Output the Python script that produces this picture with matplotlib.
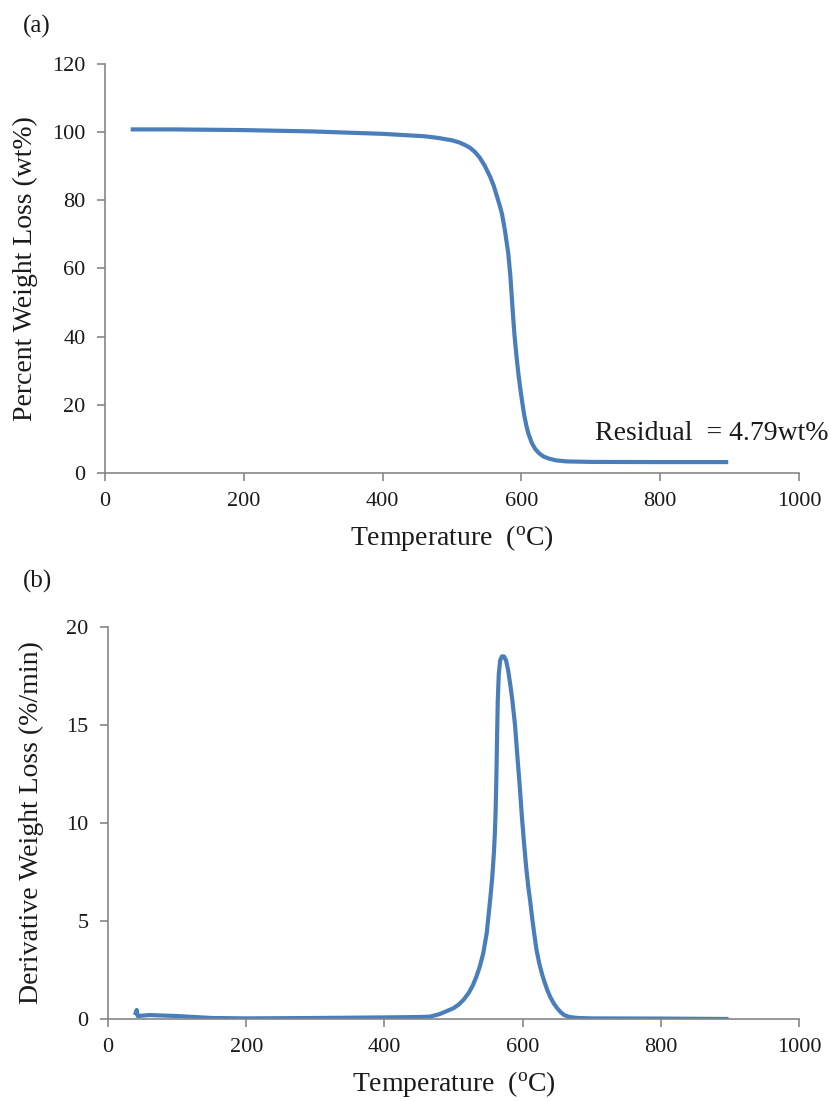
import matplotlib
matplotlib.use("Agg")
import matplotlib.pyplot as plt
import numpy as np

# TGA data
tga_temp = [40, 100, 200, 300, 400, 460, 480, 500, 510, 518, 526, 533, 540, 547, 555, 560,
            565, 569, 572, 576, 581, 584, 586, 588, 590, 593, 596, 598, 601, 604, 607, 610,
            615, 620, 626, 632, 640, 650, 665, 700, 800, 895]
tga_wt = [100.8, 100.8, 100.6, 100.2, 99.5, 98.8, 98.3, 97.6, 97.0, 96.3, 95.4, 94.2, 92.5,
          90.2, 86.9, 84.3, 81.0, 78.3, 76.0, 71.5, 64.5, 58.0, 52.0, 46.0, 40.5, 34.0, 28.5,
          25.3, 21.0, 17.0, 14.0, 11.6, 8.8, 7.0, 5.7, 4.8, 4.2, 3.7, 3.4, 3.25, 3.2, 3.2]

# DTG data
dtg_temp = [40, 41.5, 43, 60, 100, 150, 200, 300, 400, 450, 466, 480, 500, 508, 515, 522,
            528, 533, 538, 543, 548, 553, 556, 558.5, 560, 561, 562, 563, 564, 565.5, 567.5,
            570, 573, 576, 579, 582, 585, 589, 592, 596, 599, 602, 605, 608, 611, 614, 617,
            620, 624, 628, 632, 636, 640, 645, 650, 655, 660, 668, 680, 700, 800, 895]
dtg_val = [0.3, 0.46, 0.15, 0.2, 0.15, 0.05, 0.03, 0.05, 0.08, 0.1, 0.12, 0.25, 0.55, 0.75,
           1.0, 1.33, 1.72, 2.15, 2.67, 3.35, 4.37, 6.07, 7.2, 8.5, 9.6, 10.7, 12.3, 14.3,
           16.2, 17.6, 18.3, 18.5, 18.5, 18.3, 17.8, 17.1, 16.3, 15.0, 13.6, 11.8, 10.3, 9.0,
           7.8, 6.8, 6.0, 5.1, 4.3, 3.55, 2.85, 2.3, 1.85, 1.45, 1.12, 0.8, 0.55, 0.35, 0.2,
           0.1, 0.05, 0.03, 0.02, 0.0]

x_ticks = [0, 200, 400, 600, 800, 1000]
tga_yticks = [0, 20, 40, 60, 80, 100, 120]
dtg_yticks = [0, 5, 10, 15, 20]

plt.rcParams['font.family'] = ['Liberation Serif', 'DejaVu Serif']
plt.rcParams['mathtext.fontset'] = 'custom'
plt.rcParams['mathtext.rm'] = 'Liberation Serif'

line_color = '#4A7EBB'
spine_color = '#868686'
text_color = '#1a1a1a'

fig = plt.figure(figsize=(8.31, 11.01), dpi=100)
ax1 = fig.add_axes([0.1264, 0.5704, 0.8351, 0.3715])
ax2 = fig.add_axes([0.1300, 0.0745, 0.8315, 0.3560])

def style(ax):
    for s in ['top', 'right']:
        ax.spines[s].set_visible(False)
    for s in ['left', 'bottom']:
        ax.spines[s].set_color(spine_color)
        ax.spines[s].set_linewidth(1.2)
    ax.tick_params(axis='both', direction='out', length=6, width=1.2, color=spine_color,
                   labelsize=16, labelcolor=text_color, pad=8)

ax1.plot(tga_temp, tga_wt, color=line_color, lw=3.0, solid_joinstyle='round')
ax1.set_xlim(0, 1000)
ax1.set_ylim(0, 120)
ax1.set_xticks(x_ticks)
ax1.set_yticks(tga_yticks)
style(ax1)
ax1.set_xlabel(r'Temperature  ($\mathregular{^o}$C)', fontsize=20, color=text_color, labelpad=8)
ax1.set_ylabel('Percent Weight Loss (wt%)', fontsize=20, color=text_color, labelpad=10)
ax1.text(706, 11.5, 'Residual  = 4.79wt%', fontsize=20, color=text_color, ha='left', va='center')

ax2.plot(dtg_temp, dtg_val, color=line_color, lw=3.0, solid_joinstyle='round')
ax2.set_xlim(0, 1000)
ax2.set_ylim(0, 20)
ax2.set_xticks(x_ticks)
ax2.set_yticks(dtg_yticks)
style(ax2)
ax2.set_xlabel(r'Temperature  ($\mathregular{^o}$C)', fontsize=20, color=text_color, labelpad=8)
ax2.set_ylabel('Derivative Weight Loss (%/min)', fontsize=20, color=text_color, labelpad=16)

fig.text(0.027, 0.976, '(a)', fontsize=18, color=text_color, ha='left', va='center')
fig.text(0.027, 0.472, '(b)', fontsize=18, color=text_color, ha='left', va='center')

fig.savefig('out.png', dpi=100)
